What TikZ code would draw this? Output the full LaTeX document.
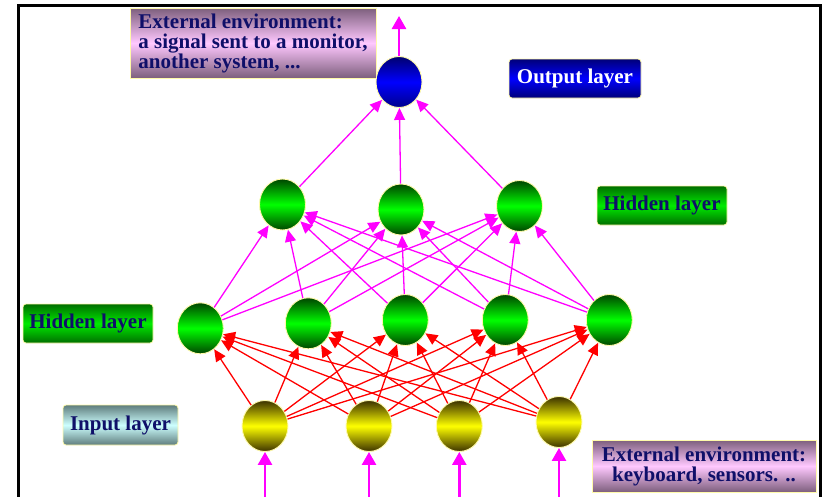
\documentclass[tikz,border=0pt]{standalone}
\usepackage{fontspec}
\setmainfont{Liberation Serif}
\usetikzlibrary{shapes.geometric,arrows.meta}
\definecolor{navytxt}{RGB}{15,15,105}
\definecolor{magentaA}{RGB}{255,0,255}
\definecolor{redA}{RGB}{255,0,0}
\definecolor{rimY}{RGB}{255,250,170}
\begin{document}
\begin{tikzpicture}[x=1pt,y=-1pt,
  neuron/.style={ellipse, minimum width=46pt, minimum height=51pt, inner sep=0pt, draw=rimY, line width=0.9pt},
  greenN/.style={neuron, top color={rgb,255:red,0;green,70;blue,0}, bottom color={rgb,255:red,0;green,70;blue,0}, middle color={rgb,255:red,0;green,255;blue,0}},
  yellowN/.style={neuron, top color={rgb,255:red,60;green,50;blue,0}, bottom color={rgb,255:red,60;green,50;blue,0}, middle color={rgb,255:red,255;green,255;blue,0}},
  blueN/.style={neuron, top color={rgb,255:red,0;green,0;blue,110}, bottom color={rgb,255:red,0;green,0;blue,140}, middle color={rgb,255:red,0;green,0;blue,255}},
  lbl/.style={draw=rimY, line width=0.8pt, inner sep=0pt, font=\bfseries\fontsize{21}{20}\selectfont, text=navytxt},
  layerbox/.style={lbl, rounded corners=3pt, minimum height=39pt},
  pinkbox/.style={lbl, top color={rgb,255:red,125;green,95;blue,125}, bottom color={rgb,255:red,125;green,95;blue,125}, middle color={rgb,255:red,255;green,200;blue,255}},
  greenbox/.style={layerbox, minimum width=130pt, top color={rgb,255:red,0;green,110;blue,0}, bottom color={rgb,255:red,0;green,110;blue,0}, middle color={rgb,255:red,0;green,235;blue,0}},
  redarrow/.style={draw=redA, line width=1.3pt, -{Triangle[length=12pt,width=11pt]}},
  magarrow/.style={draw=magentaA, line width=1.3pt, -{Triangle[length=12pt,width=11pt]}},
  bigarrow/.style={draw=magentaA, line width=2.6pt, -{Triangle[length=13pt,width=14pt]}}
]
\useasboundingbox (0,0) rectangle (825,496);
\draw[line width=3pt] (18,497) -- (18,5.5) -- (820,5.5) -- (820,497);

% neurons
\node[blueN] (o) at (399,82) {};
\node[greenN] (h21) at (282.5,204.5) {};
\node[greenN] (h22) at (401,209.5) {};
\node[greenN] (h23) at (519.5,206) {};
\node[greenN] (h11) at (200.3,328.3) {};
\node[greenN] (h12) at (308.3,323.3) {};
\node[greenN] (h13) at (405.3,320) {};
\node[greenN] (h14) at (505.3,320) {};
\node[greenN] (h15) at (609.3,320) {};
\node[yellowN] (i1) at (265,426) {};
\node[yellowN] (i2) at (369,426) {};
\node[yellowN] (i3) at (459.3,426) {};
\node[yellowN] (i4) at (559,422) {};

% connectors
\foreach \a in {1,...,4}{\foreach \b in {1,...,5}{\draw[redarrow] (i\a) -- (h1\b);}}
\foreach \a in {1,...,5}{\foreach \b in {1,2,3}{\draw[magarrow] (h1\a) -- (h2\b);}}
\foreach \b in {1,2,3}{\draw[magarrow] (h2\b) -- (o);}

\coordinate (c1) at (265,497);
\coordinate (c2) at (369,497);
\coordinate (c3) at (459.3,497);
\coordinate (c4) at (559,497);
\foreach \a in {1,...,4}{\draw[bigarrow] (c\a) -- (i\a);}
\coordinate (top) at (399,16);
\draw[bigarrow] (o) -- (top);

% labels
\node[pinkbox, minimum width=246pt, minimum height=70pt, align=left] (envout) at (253,43)
  {External environment:\\a signal sent to a monitor,\\another system, ...};
\node[pinkbox, minimum width=224pt, minimum height=52pt, align=center] (envin) at (704,466)
  {External environment:\\keyboard, sensors. ..};
\node[layerbox, minimum width=132pt, text=white, top color={rgb,255:red,0;green,0;blue,120}, bottom color={rgb,255:red,0;green,0;blue,120}, middle color={rgb,255:red,0;green,0;blue,255}] (outl) at (575,78.5) {Output layer};
\node[greenbox] (hid2l) at (662,205.5) {Hidden layer};
\node[greenbox] (hid1l) at (88,323.5) {Hidden layer};
\node[layerbox, minimum width=115pt, minimum height=40pt, top color={rgb,255:red,95;green,125;blue,125}, bottom color={rgb,255:red,95;green,125;blue,125}, middle color={rgb,255:red,205;green,255;blue,255}] (inl) at (120.5,425) {Input layer};
\end{tikzpicture}
\end{document}
